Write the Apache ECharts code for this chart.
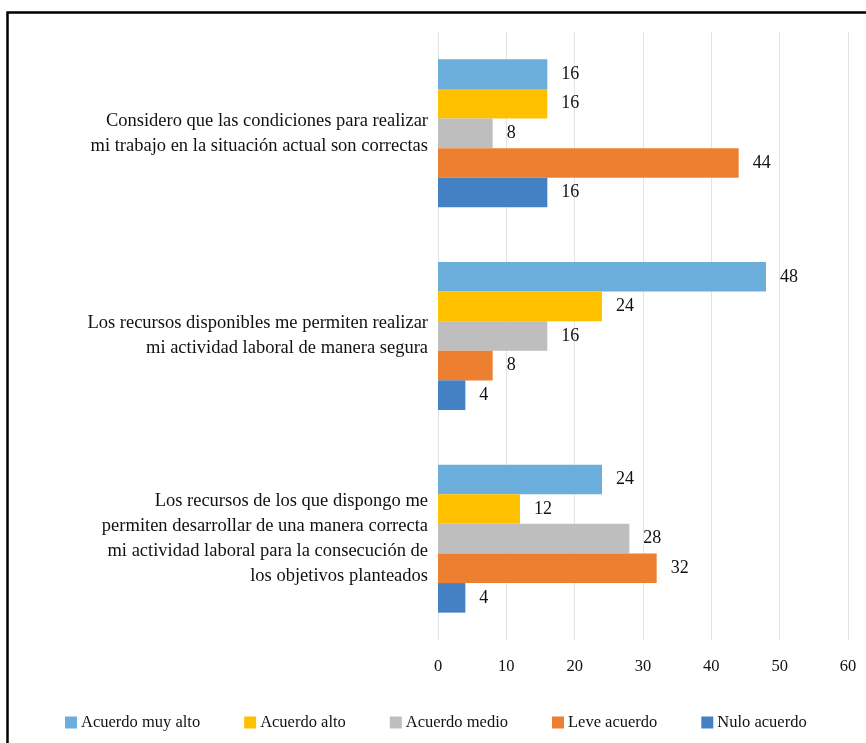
<!DOCTYPE html>
<html>
<head>
<meta charset="utf-8">
<script src="https://cdn.jsdelivr.net/npm/echarts@6/dist/echarts.min.js"></script>
<style>
  html, body { margin: 0; padding: 0; background: #ffffff; }
  #chart { width: 866px; height: 743px; }
</style>
</head>
<body>
<div id="chart"></div>
<script>
// Survey statements (one horizontal group each)
const categories = [
  'Considero que las condiciones para realizar\nmi trabajo en la situación actual son correctas',
  'Los recursos disponibles me permiten realizar\nmi actividad laboral de manera segura',
  'Los recursos de los que dispongo me\npermiten desarrollar de una manera correcta\nmi actividad laboral para la consecución de\nlos objetivos planteados'
];

// Response levels and their values per statement
const seriesNames = ['Acuerdo muy alto', 'Acuerdo alto', 'Acuerdo medio', 'Leve acuerdo', 'Nulo acuerdo'];
const acuerdoMuyAlto = [16, 48, 24];
const acuerdoAlto    = [16, 24, 12];
const acuerdoMedio   = [8, 16, 28];
const leveAcuerdo    = [44, 8, 32];
const nuloAcuerdo    = [16, 4, 4];

const xTicks = [0, 10, 20, 30, 40, 50, 60];

const colors = ['#6BAEDC', '#FFC000', '#BFBEBE', '#EC7F30', '#4380C4'];
const seriesData = [acuerdoMuyAlto, acuerdoAlto, acuerdoMedio, leveAcuerdo, nuloAcuerdo];

const FONT = 'Liberation Serif';

const chart = echarts.init(document.getElementById('chart'), null, { renderer: 'canvas' });

chart.setOption({
  animation: false,
  backgroundColor: '#ffffff',
  textStyle: { fontFamily: FONT },
  graphic: [{
    type: 'rect',
    left: 5,
    top: 10,
    shape: { width: 880, height: 760 },
    style: { fill: 'none', stroke: '#000000', lineWidth: 2.5 },
    silent: true,
    z: 100
  }],
  grid: { left: 438, right: 18, top: 32, bottom: 103, containLabel: false },
  legend: {
    left: 60,
    top: 709,
    itemWidth: 12,
    itemHeight: 12,
    itemGap: 44,
    icon: 'rect',
    textStyle: { fontFamily: FONT, fontSize: 16.5, color: '#111111', padding: [0, 0, 0, -1] },
    data: seriesNames
  },
  xAxis: {
    type: 'value',
    min: xTicks[0],
    max: xTicks[xTicks.length - 1],
    interval: 10,
    axisLine: { show: false },
    axisTick: { show: false },
    splitLine: { lineStyle: { color: '#E3E3E3', width: 1 } },
    axisLabel: { fontFamily: FONT, fontSize: 16.5, color: '#111111', margin: 18 }
  },
  yAxis: {
    type: 'category',
    inverse: true,
    data: categories,
    axisLine: { show: false },
    axisTick: { show: false },
    axisLabel: {
      fontFamily: FONT, fontSize: 18.5, color: '#111111',
      margin: 10, align: 'right', lineHeight: 25
    }
  },
  series: seriesNames.map((name, i) => ({
    name,
    type: 'bar',
    data: seriesData[i],
    barGap: '0%',
    barCategoryGap: '27%',
    itemStyle: { color: colors[i] },
    label: {
      show: true,
      position: 'right',
      distance: 14,
      fontFamily: FONT,
      fontSize: 18,
      color: '#111111'
    }
  }))
});
</script>
</body>
</html>
